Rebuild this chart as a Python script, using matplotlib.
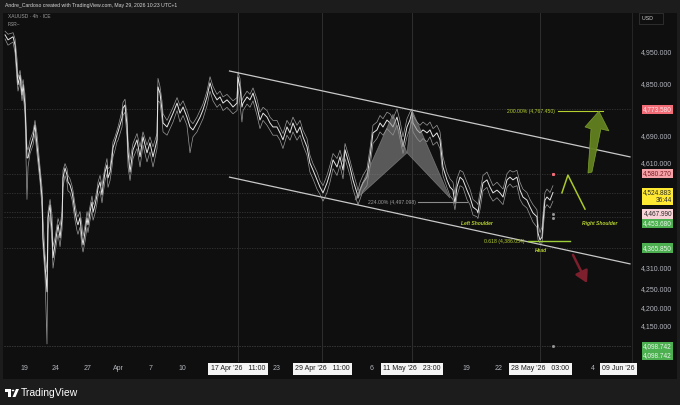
import matplotlib
matplotlib.use("Agg")
import matplotlib.pyplot as plt
from matplotlib.patches import Rectangle, Polygon, Circle
from matplotlib.ticker import NullLocator
from matplotlib.transforms import blended_transform_factory

plt.rcParams['font.family'] = ['Liberation Sans', 'DejaVu Sans']

W, H = 680, 405

# -----------------------------
# XAUUSD 4h (x = trading days since 19 Mar)
# -----------------------------
days = [
    -1.80, -1.52, -1.04, -0.85, -0.66, -0.57, -0.38, -0.19, -0.09, 0.09,
    0.28, 0.38, 0.57, 0.85, 1.04, 1.23, 1.52, 1.71, 1.80, 1.99,
    2.18, 2.28, 2.47, 2.66, 2.75, 2.94, 3.13, 3.23, 3.42, 3.61,
    3.70, 3.89, 4.08, 4.17, 4.36, 4.55, 4.65, 4.84, 5.03, 5.12,
    5.31, 5.50, 5.60, 5.79, 5.98, 6.07, 6.26, 6.45, 6.55, 6.74,
    6.93, 7.02, 7.21, 7.40, 7.50, 7.69, 7.87, 7.97, 8.16, 8.35,
    8.44, 8.63, 8.82, 8.92, 9.11, 9.30, 9.39, 9.58, 9.77, 9.87,
    10.06, 10.34, 10.72, 11.01, 11.29, 11.67, 11.95, 12.24, 12.62, 12.71,
    12.90, 13.09, 13.19, 13.57, 13.85, 14.14, 14.52, 14.80, 15.09, 15.46,
    15.75, 16.03, 16.41, 16.70, 16.98, 17.36, 17.65, 17.93, 18.31, 18.60,
    18.88, 19.26, 19.54, 19.83, 20.21, 20.30, 20.49, 20.68, 20.78, 21.16,
    21.44, 21.73, 22.11, 22.39, 22.68, 23.06, 23.34, 23.62, 24.00, 24.29,
    24.57, 24.95, 25.24, 25.52, 25.90, 26.19, 26.47, 26.85, 27.13, 27.42,
    27.80, 28.08, 28.37, 28.75, 29.03, 29.32, 29.70, 29.98, 30.27, 30.46,
    30.65, 30.93, 31.21, 31.59, 31.69, 31.88, 32.16, 32.54, 32.83, 33.11,
    33.49, 33.78, 34.06, 34.44, 34.73, 35.01, 35.39, 35.67, 35.96, 36.34,
    36.62, 36.81, 36.91, 37.29, 37.57, 37.86, 38.24, 38.52, 38.81, 39.18,
    39.47, 39.75, 40.13, 40.42, 40.70, 40.89, 41.08, 41.37, 41.65, 42.03,
    42.31, 42.60, 42.98, 43.07, 43.26, 43.55, 43.93, 44.21, 44.50, 44.88,
    45.16, 45.45, 45.83, 46.11, 46.39, 46.77, 47.06, 47.34, 47.72, 48.01,
    48.29, 48.67, 48.77, 48.96, 49.15, 49.24, 49.43, 49.62, 49.91, 50.19,
]
closes = [
    5008, 4992, 5002, 4975, 4890, 4850, 4880, 4818, 4850, 4787,
    4627, 4627, 4657, 4687, 4726, 4666, 4576, 4509, 4395, 4319,
    4245, 4452, 4489, 4412, 4339, 4375, 4412, 4432, 4395, 4452,
    4568, 4597, 4576, 4556, 4547, 4527, 4509, 4468, 4440, 4432,
    4452, 4395, 4375, 4412, 4452, 4432, 4468, 4497, 4468, 4489,
    4518, 4538, 4556, 4518, 4547, 4585, 4606, 4568, 4585, 4627,
    4657, 4675, 4696, 4705, 4726, 4747, 4778, 4787, 4726, 4645,
    4585, 4651, 4681, 4630, 4690, 4642, 4672, 4630, 4681, 4843,
    4824, 4772, 4732, 4720, 4741, 4762, 4793, 4762, 4781, 4750,
    4720, 4711, 4732, 4750, 4772, 4812, 4856, 4824, 4803, 4812,
    4793, 4803, 4793, 4781, 4793, 4874, 4843, 4781, 4793, 4812,
    4803, 4824, 4781, 4741, 4762, 4750, 4732, 4720, 4720, 4702,
    4681, 4720, 4702, 4732, 4702, 4720, 4690, 4660, 4612, 4591,
    4562, 4541, 4524, 4553, 4582, 4621, 4600, 4630, 4591, 4651,
    4630, 4600, 4562, 4524, 4509, 4532, 4553, 4570, 4630, 4702,
    4711, 4732, 4720, 4741, 4732, 4720, 4750, 4711, 4660, 4720,
    4741, 4765, 4732, 4711, 4702, 4711, 4702, 4711, 4690, 4702,
    4681, 4600, 4562, 4541, 4532, 4494, 4541, 4570, 4562, 4532,
    4512, 4483, 4474, 4466, 4503, 4553, 4562, 4541, 4524, 4532,
    4524, 4512, 4562, 4570, 4562, 4570, 4532, 4512, 4503, 4483,
    4466, 4455, 4409, 4389, 4397, 4437, 4503, 4512, 4503, 4525,
]
highs = [
    5020, 5010, 5015, 4995, 4930, 4870, 4895, 4850, 4866, 4820,
    4660, 4650, 4680, 4705, 4740, 4700, 4600, 4540, 4450, 4350,
    4300, 4470, 4505, 4460, 4370, 4395, 4430, 4450, 4430, 4470,
    4590, 4610, 4595, 4575, 4565, 4545, 4530, 4490, 4460, 4455,
    4470, 4430, 4400, 4430, 4470, 4455, 4485, 4515, 4490, 4505,
    4535, 4555, 4575, 4545, 4565, 4600, 4625, 4595, 4600, 4645,
    4675, 4690, 4710, 4720, 4745, 4770, 4795, 4805, 4760, 4680,
    4620, 4670, 4700, 4660, 4705, 4665, 4690, 4660, 4700, 4870,
    4845, 4800, 4760, 4740, 4760, 4780, 4810, 4785, 4800, 4770,
    4740, 4730, 4750, 4770, 4790, 4830, 4875, 4845, 4820, 4830,
    4812, 4820, 4810, 4800, 4810, 4890, 4870, 4800, 4810, 4830,
    4820, 4840, 4805, 4765, 4780, 4770, 4750, 4740, 4740, 4720,
    4700, 4740, 4725, 4750, 4725, 4740, 4710, 4685, 4635, 4610,
    4585, 4560, 4545, 4575, 4605, 4640, 4625, 4650, 4615, 4670,
    4650, 4620, 4585, 4545, 4530, 4555, 4575, 4595, 4655, 4725,
    4735, 4755, 4745, 4765, 4760, 4745, 4775, 4740, 4690, 4745,
    4765, 4775, 4755, 4735, 4725, 4735, 4725, 4735, 4715, 4725,
    4705, 4630, 4585, 4565, 4555, 4520, 4565, 4590, 4585, 4555,
    4535, 4505, 4495, 4490, 4525, 4575, 4585, 4565, 4545, 4555,
    4545, 4535, 4580, 4590, 4585, 4590, 4555, 4535, 4525, 4505,
    4490, 4475, 4435, 4410, 4425, 4460, 4525, 4535, 4525, 4545,
]
lows = [
    4995, 4975, 4985, 4950, 4860, 4830, 4860, 4800, 4825, 4760,
    4505, 4600, 4640, 4665, 4700, 4640, 4555, 4480, 4370, 4290,
    4105, 4420, 4460, 4380, 4310, 4350, 4390, 4405, 4370, 4420,
    4540, 4575, 4555, 4530, 4525, 4505, 4485, 4445, 4415, 4405,
    4425, 4370, 4355, 4385, 4425, 4410, 4445, 4470, 4445, 4465,
    4495, 4515, 4530, 4495, 4520, 4560, 4580, 4540, 4560, 4600,
    4630, 4650, 4675, 4680, 4700, 4720, 4755, 4765, 4690, 4600,
    4560, 4625, 4655, 4600, 4665, 4615, 4645, 4600, 4655, 4800,
    4795, 4745, 4705, 4695, 4715, 4735, 4770, 4735, 4755, 4725,
    4642, 4690, 4705, 4725, 4745, 4785, 4830, 4800, 4780, 4790,
    4770, 4780, 4770, 4760, 4770, 4840, 4790, 4735, 4770, 4790,
    4780, 4800, 4755, 4715, 4740, 4725, 4710, 4695, 4695, 4680,
    4655, 4695, 4680, 4705, 4680, 4695, 4665, 4635, 4585, 4565,
    4535, 4520, 4500, 4525, 4555, 4595, 4575, 4605, 4565, 4625,
    4605, 4575, 4535, 4500, 4490, 4505, 4530, 4545, 4600, 4670,
    4685, 4705, 4695, 4715, 4705, 4695, 4725, 4685, 4640, 4690,
    4715, 4740, 4705, 4685, 4675, 4685, 4675, 4690, 4665, 4675,
    4655, 4575, 4540, 4515, 4505, 4475, 4515, 4545, 4540, 4505,
    4490, 4460, 4455, 4450, 4475, 4530, 4540, 4515, 4500, 4510,
    4500, 4490, 4540, 4550, 4540, 4545, 4505, 4490, 4480, 4460,
    4440, 4425, 4390, 4380, 4380, 4410, 4480, 4490, 4480, 4500,
]

# right price scale
price_ticks = [4950, 4850, 4690, 4610, 4310, 4250, 4200, 4150]
tag_values = [4773.580, 4580.270, 4524.883, 4467.990, 4453.680, 4365.850, 4098.742, 4098.742]
tag_texts = ["4,773.580", "4,580.270", "4,524.883\n36:44", "4,467.990", "4,453.680",
             "4,365.850", "4,098.742", "4,098.742"]

# time scale
time_tick_days = [0, 3, 6, 9, 12, 15, 24, 33, 42, 45, 54]
time_tick_labels = ["19", "24", "27", "Apr", "7", "10", "23", "6", "19", "22", "4"]
marker_days = [20.3, 28.3, 36.8, 49.0, 56.4]
marker_labels = ["17 Apr '26   11:00", "29 Apr '26   11:00", "11 May '26   23:00",
                 "28 May '26   03:00", "09 Jun '26"]

# drawings
channel_days = [19.5, 57.5]
upper_channel = [4893, 4630]
lower_channel = [4570, 4322]
bat_days = [31.40, 35.01, 36.34, 36.81, 40.42]
bat_prices = [4503, 4759, 4642, 4772, 4509]
fib_224 = 4497.098
fib_200 = 4767.450
fib_0618 = 4386.054
shoulder_days = [51.04, 51.61, 53.23]
shoulder_prices = [4524, 4576, 4477]
up_arrow_days = [53.51, 53.89, 54.74, 55.50, 54.55, 53.23, 53.80]
up_arrow_prices = [4582, 4585, 4714, 4708, 4768, 4720, 4714]

BG_OUT = '#1c1c1c'
BG = '#0f0f0f'
AXIS_TXT = '#b2b5be'
LIME = '#b5d12f'


def fx(px):
    return px / W


def fy(py):
    return 1 - py / H


fig = plt.figure(figsize=(W / 100, H / 100), dpi=100)
fig.patch.set_facecolor(BG_OUT)

# dark chart panel (behind the axes)
fig.patches.append(Rectangle((fx(3), fy(379)), fx(674), 366 / H, transform=fig.transFigure,
                             facecolor=BG, edgecolor='none', zorder=-10))
fig.text(fx(5), fy(6), "Andre_Cardoso created with TradingView.com, May 29, 2026 10:23 UTC+1",
         fontsize=3.7, color='#d6d6d6', va='center', ha='left')

ax = fig.add_axes([fx(4), fy(362), 628 / W, 349 / H])
ax.set_zorder(2)
ax.set_facecolor(BG)
for s in ax.spines.values():
    s.set_visible(False)
ax.spines['right'].set_visible(True)
ax.spines['right'].set_color('#2a2a2a')
ax.spines['right'].set_linewidth(0.6)
ax.set_yscale('log')
ax.set_xlim(-1.90, 57.69)
ax.set_ylim(4057.6, 5079.0)
ax.set_xticks([])
ax.set_yticks([])
ax.yaxis.set_minor_locator(NullLocator())

# dotted price lines behind the labels
for v in tag_values:
    ax.axhline(v, color='#363636', lw=0.6, ls=(0, (1.5, 1.5)), zorder=1)

# vertical drawing lines at the date marks
for d in marker_days[:4]:
    ax.axvline(d, color='#2e2e2e', lw=0.7, zorder=1)

# price series
ax.plot(days, highs, color='#9a9a9a', lw=0.5, zorder=3)
ax.plot(days, lows, color='#9a9a9a', lw=0.5, zorder=3)
ax.plot(days, closes, color='#e6e6e6', lw=0.7, zorder=4)

# descending channel
ax.plot(channel_days, upper_channel, color='#c8c8c8', lw=0.9, zorder=5)
ax.plot(channel_days, lower_channel, color='#c8c8c8', lw=0.9, zorder=5)

# harmonic pattern triangles
tri1 = [(bat_days[i], bat_prices[i]) for i in (0, 1, 2)]
tri2 = [(bat_days[i], bat_prices[i]) for i in (2, 3, 4)]
for tri in (tri1, tri2):
    ax.add_patch(Polygon(tri, closed=True, facecolor='#8c8c8c', edgecolor='#9a9a9a',
                         lw=0.5, alpha=0.6, zorder=5))

# fib levels
ax.plot([37.38, 42.03], [fib_224, fib_224], color='#8a8a8a', lw=0.8, zorder=5)
ax.text(37.19, fib_224, "224.00% (4,497.098)", fontsize=3.7, color='#9a9a9a',
        ha='right', va='center', zorder=6)
ax.plot([50.66, 54.93], [fib_200, fib_200], color=LIME, lw=0.8, zorder=5)
ax.text(50.38, fib_200, "200.00% (4,767.450)", fontsize=3.7, color=LIME,
        ha='right', va='center', zorder=6)
ax.plot([47.82, 51.80], [fib_0618, fib_0618], color='#9fcf38', lw=1.0, zorder=5)
ax.text(47.53, fib_0618, "0.618 (4,386.054)", fontsize=3.7, color=LIME,
        ha='right', va='center', zorder=6)

# head & shoulders notes
note = dict(fontsize=3.6, color=LIME, style='italic', weight='bold', ha='center', va='center', zorder=6)
ax.text(42.98, 4437, "Left Shoulder", **note)
ax.text(54.65, 4437, "Right Shoulder", **note)
ax.text(49.05, 4358, "Head", **note)
ax.plot(shoulder_days, shoulder_prices, color='#a9c82a', lw=1.1, zorder=6)

# target arrows
ax.add_patch(Polygon(list(zip(up_arrow_days, up_arrow_prices)), closed=True,
                     facecolor='#62821f', edgecolor='#7fa32c', lw=0.5, alpha=0.95, zorder=6))
ax.annotate("", xy=(53.42, 4269), xytext=(52.09, 4347),
            arrowprops=dict(arrowstyle='-|>,head_length=0.7,head_width=0.4',
                            color='#7d1f2c', lw=1.8, shrinkA=0, shrinkB=0), zorder=6)

# small price-line dots at the last bar
ax.plot([50.19], [4580.27], marker='s', ms=1.2, color='#f26d77', ls='none', zorder=6)
ax.plot([50.19, 50.19, 50.19], [4463, 4452, 4098.742], marker='s', ms=1.0,
        color='#9a9a9a', ls='none', zorder=6)

# symbol info
ax.text(4 / 628, 1 - 3 / 349, "XAUUSD · 4h · ICE", transform=ax.transAxes,
        fontsize=3.5, color='#a0a0a0', ha='left', va='center')
ax.text(4 / 628, 1 - 11 / 349, "FSR~", transform=ax.transAxes,
        fontsize=3.5, color='#a0a0a0', ha='left', va='center')

# right price scale
ytr = blended_transform_factory(ax.transAxes, ax.transData)
x_lab = 1 + (672 - 632) / 628
for v in price_ticks:
    ax.text(x_lab, v, f"{v:,.3f}", transform=ytr, fontsize=5.0, color=AXIS_TXT,
            ha='right', va='center', clip_on=False)

tag_face = ['#f26d77', '#f5a3a8', '#ffe933', '#f8d3d8', '#4caf50', '#4caf50', '#4caf50', '#4caf50']
tag_fg = ['#fde3e5', '#7a1a22', '#2a2a2a', '#2a2a2a', '#e8f5e9', '#e8f5e9', '#e8f5e9', '#e8f5e9']
tag_shift = [0, 0, -2.9, -1.1, -4.4, 0, 0, -6.5]
for v, t, fc, tc, dy in zip(tag_values, tag_texts, tag_face, tag_fg, tag_shift):
    ax.annotate(t, xy=(x_lab, v), xycoords=ytr, xytext=(0, dy), textcoords='offset points',
                fontsize=4.7, color=tc, ha='right', va='center', linespacing=1.1,
                annotation_clip=False,
                bbox=dict(boxstyle='square,pad=0.2', fc=fc, ec='none'))

ax.text(1 + (642 - 632) / 628, 1 - 5.5 / 349, "USD     ", transform=ax.transAxes,
        fontsize=3.8, color='#cfcfcf', ha='left', va='center', clip_on=False,
        bbox=dict(boxstyle='square,pad=0.5', fc=BG, ec='#3a3a3a', lw=0.5))

# time scale
xtr = blended_transform_factory(ax.transData, ax.transAxes)
y_lab = -(369 - 362) / 349
for d, t in zip(time_tick_days, time_tick_labels):
    ax.text(d, y_lab, t, transform=xtr, fontsize=5.0, color=AXIS_TXT,
            ha='center', va='center', clip_on=False)
for d, t in zip(marker_days, marker_labels):
    ax.text(d, y_lab, t, transform=xtr, fontsize=5.0, color='#1a1a1a',
            ha='center', va='center', clip_on=False,
            bbox=dict(boxstyle='square,pad=0.35', fc='#f4f4f4', ec='none'))

# footer logo
logo = dict(transform=fig.transFigure, facecolor='white', edgecolor='none', zorder=5)
fig.patches.append(Rectangle((fx(5), fy(391.5)), fx(6), 2.5 / H, **logo))
fig.patches.append(Rectangle((fx(8), fy(397)), fx(3), 8 / H, **logo))
fig.patches.append(Circle((fx(13), fy(390.5)), 1.3 / W, **logo))
fig.patches.append(Polygon([(fx(12.5), fy(397)), (fx(16), fy(389)), (fx(19), fy(389)),
                            (fx(15.5), fy(397))], closed=True, **logo))
fig.text(fx(21), fy(393), "TradingView", fontsize=7.5, color='white', ha='left', va='center')

fig.savefig("out.png", dpi=100, facecolor=fig.get_facecolor())
